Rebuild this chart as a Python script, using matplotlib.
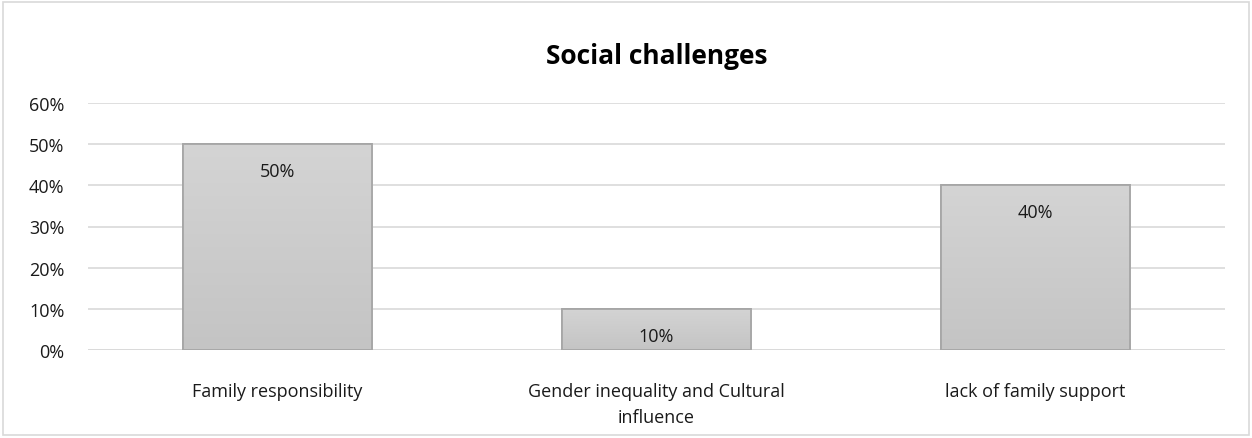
import numpy as np
import matplotlib
matplotlib.use("Agg")
import matplotlib.pyplot as plt
from matplotlib.patches import Rectangle

categories = ["Family responsibility", "Gender inequality and Cultural\ninfluence", "lack of family support"]
values = [0.50, 0.10, 0.40]
yticks = [0, 0.1, 0.2, 0.3, 0.4, 0.5, 0.6]

plt.rcParams['font.family'] = ['Open Sans', 'DejaVu Sans']

fig = plt.figure(figsize=(12.52, 4.39), dpi=100)
ax = fig.add_axes([88/1252, 1 - 351/439, (1225 - 88)/1252, (351 - 104)/439])

# chart border
fig.patches.append(Rectangle((3/1252, 3/439), 1 - 6/1252, 1 - 6/439, transform=fig.transFigure,
                             fill=False, edgecolor='#d9d9d9', lw=1.2))

x = np.arange(len(categories))
bars = ax.bar(x, values, width=0.5, color='#cbcbcb', edgecolor='#a6a6a6', lw=1.2, zorder=2)

# subtle vertical gradient on each bar
cmap = matplotlib.colors.LinearSegmentedColormap.from_list('g', ['#c4c4c4', '#d4d4d4'])
grad = np.linspace(0, 1, 256).reshape(-1, 1)
for b in bars:
    im = ax.imshow(grad, extent=(b.get_x(), b.get_x() + b.get_width(), 0, b.get_height()),
                   cmap=cmap, origin='lower', aspect='auto', zorder=2.5)
    im.set_clip_path(b)
    ax.add_patch(Rectangle((b.get_x(), 0), b.get_width(), b.get_height(), fill=False,
                           edgecolor='#a6a6a6', lw=1.3, zorder=3))

for xi, v in zip(x, values):
    ax.annotate(f"{v:.0%}", (xi, v), xytext=(0, -13), textcoords='offset points',
                ha='center', va='top', fontsize=13, color='#1a1a1a', zorder=4)

ax.set_xlim(-0.5, 2.5)
ax.set_ylim(0, 0.6)
ax.set_yticks(yticks)
ax.set_yticklabels([f"{t:.0%}" for t in yticks], fontsize=13, color='#1a1a1a')
ax.set_xticks(x)
ax.set_xticklabels(categories, fontsize=13, color='#1a1a1a', linespacing=1.55)
ax.tick_params(axis='y', length=0, pad=17)
ax.tick_params(axis='x', length=0, pad=23)
ax.grid(axis='y', color='#d9d9d9', lw=1.2, zorder=0)
for s in ax.spines.values():
    s.set_visible(False)
ax.axhline(0, color='#d9d9d9', lw=1.2, zorder=1)

fig.text((88 + 1225) / 2 / 1252, 1 - 56/439, "Social challenges", ha='center', va='center',
         fontsize=19, fontweight='bold', color='#000000')

fig.savefig("out.png", dpi=100)
